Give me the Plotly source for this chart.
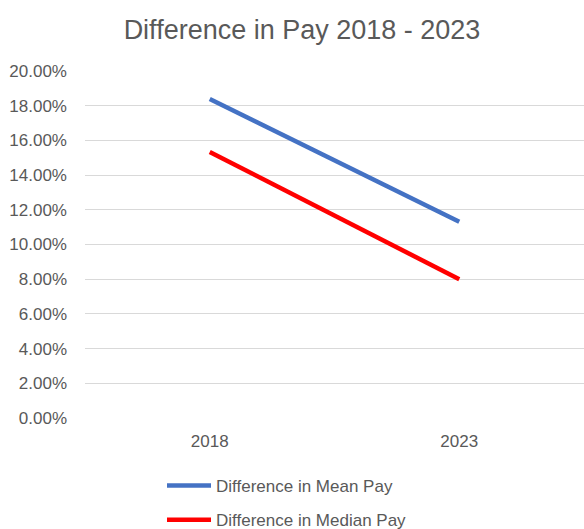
import plotly.graph_objects as go

years = ["2018", "2023"]
mean_pay = [0.1839, 0.1131]
median_pay = [0.1533, 0.0800]
series_names = ["Difference in Mean Pay", "Difference in Median Pay"]
colors = ["#4472C4", "#FF0000"]

FONT = "Liberation Sans"
GRAY = "#595959"

fig = go.Figure()
for name, vals, col in zip(series_names, [mean_pay, median_pay], colors):
    fig.add_trace(go.Scatter(
        x=years, y=vals, mode="lines", name=name, legendgroup=name,
        line=dict(color=col, width=4.5),
    ))

fig.update_layout(
    width=584, height=529,
    margin=dict(l=85, r=0, t=71, b=111, autoexpand=False),
    paper_bgcolor="white", plot_bgcolor="white",
    font=dict(family=FONT, size=17, color=GRAY),
    title=dict(text="Difference in Pay 2018 - 2023", x=302/584, xref="container",
               xanchor="center", y=1-30/529, yanchor="middle",
               font=dict(family=FONT, size=27, color=GRAY)),
    xaxis=dict(type="category", range=[-0.5, 1.5], showgrid=False, showline=False,
               zeroline=False, ticks="", ticklabelstandoff=11,
               tickfont=dict(size=17, color=GRAY)),
    yaxis=dict(range=[0, 0.2], dtick=0.02, tickformat=".2%", showgrid=True,
               gridcolor="#D9D9D9", gridwidth=1, zeroline=False, showline=False,
               ticks="", ticklabelstandoff=17,
               tickfont=dict(size=17, color=GRAY)),
    legend=dict(orientation="v", xref="container", yref="container",
                x=162/584, xanchor="left", y=1-468/529, yanchor="top",
                traceorder="grouped", tracegroupgap=9, itemwidth=44,
                font=dict(size=17, color=GRAY), bgcolor="rgba(0,0,0,0)"),
    showlegend=True,
)

fig.write_html("out.html", config={"displayModeBar": False},
               post_script="document.body.style.margin='0';")
